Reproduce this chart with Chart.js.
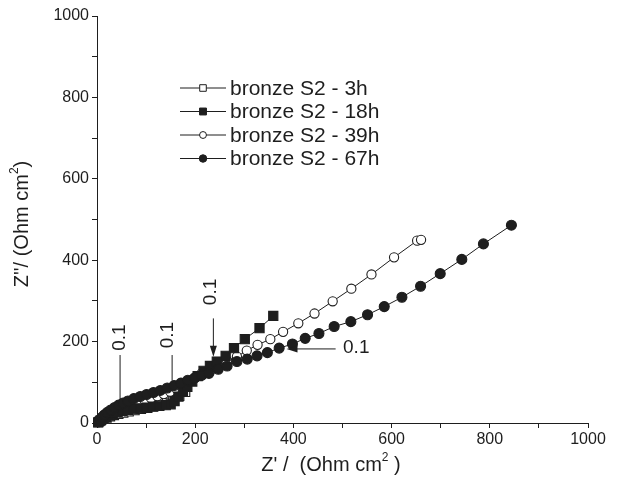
<!DOCTYPE html>
<html>
<head>
<meta charset="utf-8">
<script src="https://cdn.jsdelivr.net/npm/chart.js@4.4.0/dist/chart.umd.min.js"></script>
<style>
  html, body { margin: 0; padding: 0; background: #fff; }
  #wrap { width: 624px; height: 489px; }
</style>
</head>
<body>
<div id="wrap"><canvas id="nyquist" width="624" height="489"></canvas></div>
<script>
// Nyquist data, Z' and Z'' in Ohm cm2
const seriesNames = ['bronze S2 - 3h', 'bronze S2 - 18h', 'bronze S2 - 39h', 'bronze S2 - 67h'];

const x3h = [2, 5, 9, 14, 20, 27, 35, 44, 54, 65, 77, 90, 103, 116, 129, 142, 155, 168, 180];
const y3h = [1, 4, 7, 10, 13, 16, 19, 22, 25, 28, 31, 34, 37, 41, 45, 50, 57, 66, 76];

const x18h = [3, 7, 12, 18, 25, 33, 42, 52, 63, 75, 88, 101, 114, 127, 140, 150, 158, 166, 175, 184, 194, 205, 217, 230, 244, 262, 279, 301, 331, 359];
const y18h = [2, 6, 10, 15, 19, 23, 27, 30, 32, 34, 36, 38, 40, 42, 44, 46, 54, 65, 77, 89, 102, 115, 128, 140, 151, 165, 184, 206, 233, 263];

const x39h = [3, 7, 12, 18, 25, 33, 42, 52, 62, 73, 85, 97, 110, 123, 136, 149, 162, 175, 188, 200, 213, 231, 247, 265, 285, 305, 327, 353, 379, 410, 443, 480, 518, 559, 605, 652, 660];
const y39h = [2, 6, 11, 16, 21, 26, 31, 36, 41, 46, 51, 56, 61, 66, 71, 77, 84, 92, 101, 111, 122, 129, 140, 153, 163, 178, 192, 206, 224, 245, 269, 299, 330, 365, 407, 448, 450];

const x67h = [3, 6, 10, 15, 21, 28, 36, 44, 53, 63, 75, 88, 101, 115, 129, 143, 157, 171, 185, 199, 213, 228, 247, 265, 285, 306, 326, 347, 371, 398, 424, 452, 483, 517, 551, 585, 621, 659, 699, 743, 787, 844];
const y67h = [3, 8, 14, 20, 26, 32, 38, 44, 49, 54, 60, 65, 70, 75, 80, 86, 92, 98, 105, 111, 117, 122, 132, 140, 151, 157, 165, 173, 184, 194, 208, 220, 237, 249, 266, 286, 309, 336, 367, 402, 440, 486];

const xTicks = [0, 200, 400, 600, 800, 1000];
const yTicks = [0, 200, 400, 600, 800, 1000];

// "0.1" frequency markers, in data units
const freqMarks = [
  { text: '0.1', tx: 47, ty: 210, lx: 47, y1: 167, y2: 57, arrow: false },
  { text: '0.1', tx: 145, ty: 216, lx: 153, y1: 167, y2: 104, arrow: false },
  { text: '0.1', tx: 231, ty: 322, lx: 237, y1: 257, y2: 163, arrow: true }
];
const sideMark = { text: '0.1', tx: 528, ty: 184, x1: 486, x2: 386, y: 182 };

const ink = '#1e1e1e';
const fontName = '"Liberation Sans", Arial, sans-serif';

function pts(xs, ys) {
  return xs.map((x, i) => ({ x: x, y: ys[i] }));
}

const styles = [
  { style: 'rect', fill: '#fff', r: 6.2 },
  { style: 'rect', fill: ink, r: 6.5 },
  { style: 'circle', fill: '#fff', r: 4.6 },
  { style: 'circle', fill: ink, r: 5 }
];
const allData = [pts(x3h, y3h), pts(x18h, y18h), pts(x39h, y39h), pts(x67h, y67h)];

// filled markers sit on top, so they go first
const drawOrder = [3, 1, 2, 0];
const datasets = seriesNames.map((name, i) => ({
  label: name,
  data: allData[i],
  showLine: true,
  borderColor: ink,
  borderWidth: 1,
  pointStyle: styles[i].style,
  pointRadius: styles[i].r,
  pointBackgroundColor: styles[i].fill,
  pointBorderColor: ink,
  pointBorderWidth: 1.1,
  tension: 0,
  clip: false,
  order: drawOrder.indexOf(i)
}));

function marker(ctx, style, fill, x, y, r) {
  ctx.save();
  ctx.beginPath();
  if (style === 'circle') {
    ctx.arc(x, y, r, 0, Math.PI * 2);
  } else {
    const s = r * Math.SQRT1_2;
    ctx.rect(x - s, y - s, 2 * s, 2 * s);
  }
  ctx.fillStyle = fill;
  ctx.fill();
  ctx.lineWidth = 1;
  ctx.strokeStyle = ink;
  ctx.stroke();
  ctx.restore();
}

// text with a small raised "2", centred on (0,0) of the current transform
function unitText(ctx, before, after, size) {
  ctx.font = size + 'px ' + fontName;
  const w1 = ctx.measureText(before).width;
  const w3 = ctx.measureText(after).width;
  ctx.font = Math.round(size * 0.6) + 'px ' + fontName;
  const w2 = ctx.measureText('2').width;
  let x = -(w1 + w2 + w3) / 2;
  ctx.textAlign = 'left';
  ctx.textBaseline = 'middle';
  ctx.font = size + 'px ' + fontName;
  ctx.fillText(before, x, 0);
  x += w1;
  ctx.font = Math.round(size * 0.6) + 'px ' + fontName;
  ctx.fillText('2', x, -size * 0.38);
  x += w2;
  ctx.font = size + 'px ' + fontName;
  ctx.fillText(after, x, 0);
}

const extras = {
  id: 'extras',
  afterDatasetsDraw(chart) {
    const ctx = chart.ctx;
    const xs = chart.scales.x, ys = chart.scales.y;
    ctx.save();
    ctx.strokeStyle = ink;
    ctx.fillStyle = ink;
    ctx.lineWidth = 1;
    ctx.font = '19px ' + fontName;
    ctx.textAlign = 'center';
    ctx.textBaseline = 'middle';

    freqMarks.forEach(m => {
      const lx = xs.getPixelForValue(m.lx);
      const top = ys.getPixelForValue(m.y1);
      const bot = ys.getPixelForValue(m.y2);
      ctx.beginPath();
      ctx.moveTo(lx, top);
      ctx.lineTo(lx, m.arrow ? bot - 9 : bot);
      ctx.stroke();
      if (m.arrow) {
        ctx.beginPath();
        ctx.moveTo(lx, bot);
        ctx.lineTo(lx - 3.5, bot - 11);
        ctx.lineTo(lx + 3.5, bot - 11);
        ctx.closePath();
        ctx.fill();
      }
      ctx.save();
      ctx.translate(xs.getPixelForValue(m.tx), ys.getPixelForValue(m.ty));
      ctx.rotate(-Math.PI / 2);
      ctx.fillText(m.text, 0, 0);
      ctx.restore();
    });

    const ay = ys.getPixelForValue(sideMark.y);
    const ax1 = xs.getPixelForValue(sideMark.x1);
    const ax2 = xs.getPixelForValue(sideMark.x2);
    ctx.beginPath();
    ctx.moveTo(ax1, ay);
    ctx.lineTo(ax2 + 9, ay);
    ctx.stroke();
    ctx.beginPath();
    ctx.moveTo(ax2, ay);
    ctx.lineTo(ax2 + 11, ay - 3.5);
    ctx.lineTo(ax2 + 11, ay + 3.5);
    ctx.closePath();
    ctx.fill();
    ctx.fillText(sideMark.text, xs.getPixelForValue(sideMark.tx), ys.getPixelForValue(sideMark.ty));

    // legend: line - marker - line, then the name
    ctx.font = '21px ' + fontName;
    ctx.textAlign = 'left';
    seriesNames.forEach((name, i) => {
      const yy = 88 + i * 23.5;
      ctx.beginPath();
      ctx.moveTo(180, yy);
      ctx.lineTo(226, yy);
      ctx.stroke();
      marker(ctx, styles[i].style, styles[i].fill, 203, yy, styles[i].r * 0.75);
      ctx.fillStyle = ink;
      ctx.fillText(name, 230, yy + 1);
    });

    // axis titles
    ctx.fillStyle = ink;
    ctx.save();
    ctx.translate(331, 465);
    unitText(ctx, "Z' /  (Ohm cm", " )", 20);
    ctx.restore();
    ctx.save();
    ctx.translate(22, 224);
    ctx.rotate(-Math.PI / 2);
    unitText(ctx, "Z''/ (Ohm cm", ")", 20);
    ctx.restore();
    ctx.restore();
  }
};

const tickFont = { family: fontName, size: 16 };

new Chart(document.getElementById('nyquist').getContext('2d'), {
  type: 'scatter',
  data: { datasets: datasets },
  options: {
    responsive: false,
    animation: false,
    layout: { padding: { top: 16, right: 36, bottom: 0, left: 0 } },
    plugins: { legend: { display: false }, tooltip: { enabled: false } },
    scales: {
      x: {
        type: 'linear',
        min: 0,
        max: 1000,
        afterFit(scale) { scale.height = 66; },
        afterBuildTicks(scale) {
          scale.ticks = [];
          for (let v = 0; v <= 1000; v += 100) scale.ticks.push({ value: v });
        },
        ticks: {
          autoSkip: false,
          maxRotation: 0,
          padding: 2,
          color: ink,
          font: tickFont,
          callback: v => xTicks.includes(v) ? String(v) : ''
        },
        grid: { drawOnChartArea: false, drawTicks: true, tickLength: 5, color: ink },
        border: { color: ink, width: 1 }
      },
      y: {
        type: 'linear',
        min: 0,
        max: 1000,
        afterFit(scale) { scale.width = 97; },
        afterBuildTicks(scale) {
          scale.ticks = [];
          for (let v = 0; v <= 1000; v += 100) scale.ticks.push({ value: v });
        },
        ticks: {
          autoSkip: false,
          padding: 3,
          color: ink,
          font: tickFont,
          callback: v => yTicks.includes(v) ? String(v) : ''
        },
        grid: { drawOnChartArea: false, drawTicks: true, tickLength: 5, color: ink },
        border: { color: ink, width: 1 }
      }
    }
  },
  plugins: [extras]
});
</script>
</body>
</html>
